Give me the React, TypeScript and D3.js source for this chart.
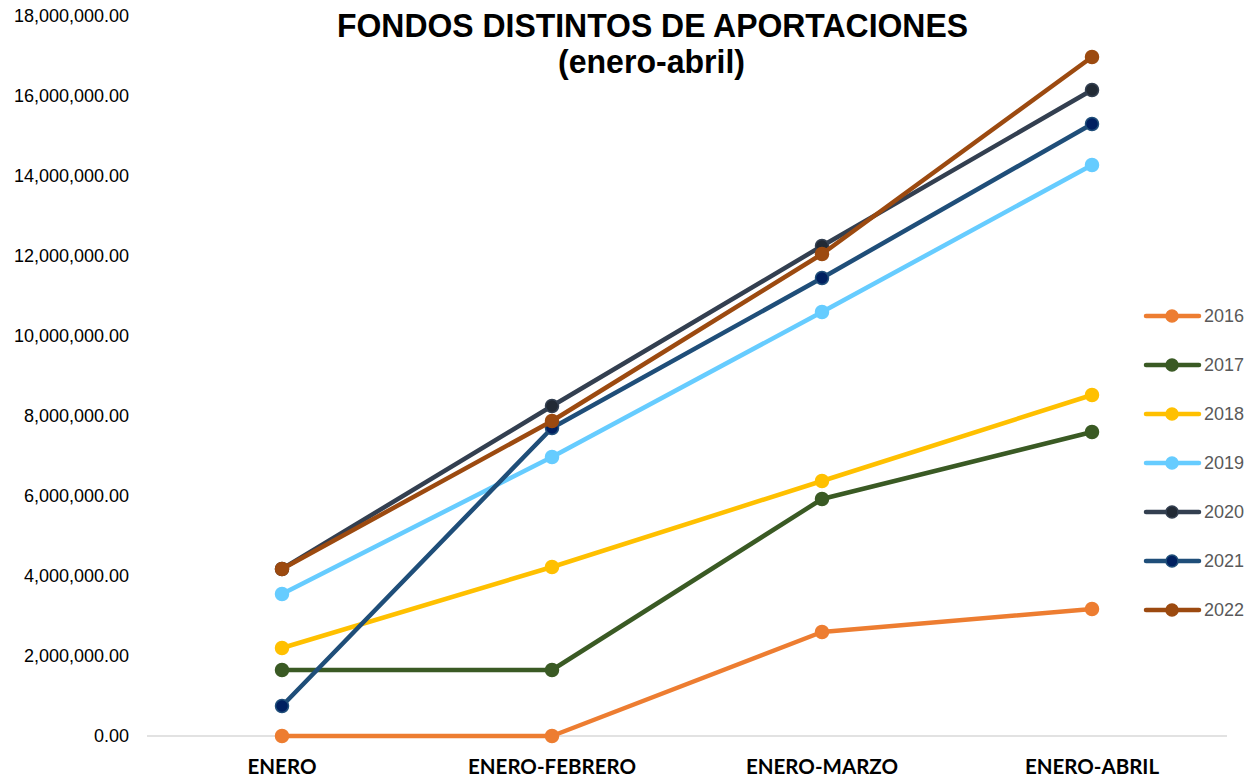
import React from "react";
import * as d3 from "d3";

const categories = ["ENERO", "ENERO-FEBRERO", "ENERO-MARZO", "ENERO-ABRIL"];
const years = ["2016", "2017", "2018", "2019", "2020", "2021", "2022"];
const v2016 = [0, 0, 2600000, 3175000];
const v2017 = [1650000, 1650000, 5925000, 7600000];
const v2018 = [2200000, 4225000, 6375000, 8525000];
const v2019 = [3550000, 6975000, 10600000, 14275000];
const v2020 = [4175000, 8250000, 12250000, 16150000];
const v2021 = [750000, 7700000, 11450000, 15300000];
const v2022 = [4175000, 7875000, 12050000, 16975000];
const yTicks = [0, 2000000, 4000000, 6000000, 8000000, 10000000, 12000000, 14000000, 16000000, 18000000];

const seriesValues = [v2016, v2017, v2018, v2019, v2020, v2021, v2022];
const lineColors = ["#ED7D31", "#3A5A24", "#FFC000", "#66CCFF", "#333F50", "#1F4E79", "#9C4A10"];
const markerColors = ["#ED7D31", "#3A5A24", "#FFC000", "#66CCFF", "#222A35", "#002060", "#9C4A10"];

export default function App() {
  const W = 1251, H = 777;
  const left = 147, right = 1227, top = 16, bottom = 736;
  const x = d3.scaleBand<string>().domain(categories).range([left, right]);
  const y = d3.scaleLinear().domain([0, 18000000]).range([bottom, top]);
  const fmt = d3.format(",.2f");
  const line = d3.line<number>().x((_, i) => x(categories[i])! + x.bandwidth() / 2).y((d) => y(d));
  const sans = "'Liberation Sans', Arial, sans-serif";

  return (
    <svg width={W} height={H} style={{ position: "absolute", left: 0, top: 0, background: "#fff" }}>
      <line x1={left} x2={right} y1={y(0)} y2={y(0)} stroke="#D9D9D9" strokeWidth={1.5} />
      {yTicks.map((t) => (
        <text key={t} x={129} y={y(t)} dy="0.35em" textAnchor="end" fontFamily={sans} fontSize={18} fill="#000">
          {fmt(t)}
        </text>
      ))}
      {categories.map((c) => (
        <text key={c} x={x(c)! + x.bandwidth() / 2} y={774} textAnchor="middle" fontFamily="Lato, sans-serif" fontWeight="bold" fontSize={20.5} fill="#000">
          {c}
        </text>
      ))}
      <text x={652.5} y={37} textAnchor="middle" fontFamily={sans} fontWeight="bold" fontSize={33} textLength={631} lengthAdjust="spacingAndGlyphs" fill="#000">
        FONDOS DISTINTOS DE APORTACIONES
      </text>
      <text x={651.5} y={73} textAnchor="middle" fontFamily={sans} fontWeight="bold" fontSize={33} textLength={187} lengthAdjust="spacingAndGlyphs" fill="#000">
        (enero-abril)
      </text>
      {seriesValues.map((vals, si) => (
        <g key={years[si]}>
          <path d={line(vals)!} fill="none" stroke={lineColors[si]} strokeWidth={4.5} strokeLinejoin="round" strokeLinecap="round" />
          {vals.map((v, i) => (
            <circle key={i} cx={x(categories[i])! + x.bandwidth() / 2} cy={y(v)} r={6.5} fill={markerColors[si]} stroke={lineColors[si]} strokeWidth={1.5} />
          ))}
        </g>
      ))}
      {years.map((yr, i) => {
        const ly = 316 + i * 49;
        return (
          <g key={yr}>
            <line x1={1146} x2={1199} y1={ly} y2={ly} stroke={lineColors[i]} strokeWidth={4.5} strokeLinecap="round" />
            <circle cx={1172} cy={ly} r={6} fill={markerColors[i]} stroke={lineColors[i]} strokeWidth={1.5} />
            <text x={1204} y={ly} dy="0.35em" fontFamily={sans} fontSize={18} fill="#595959">
              {yr}
            </text>
          </g>
        );
      })}
    </svg>
  );
}
